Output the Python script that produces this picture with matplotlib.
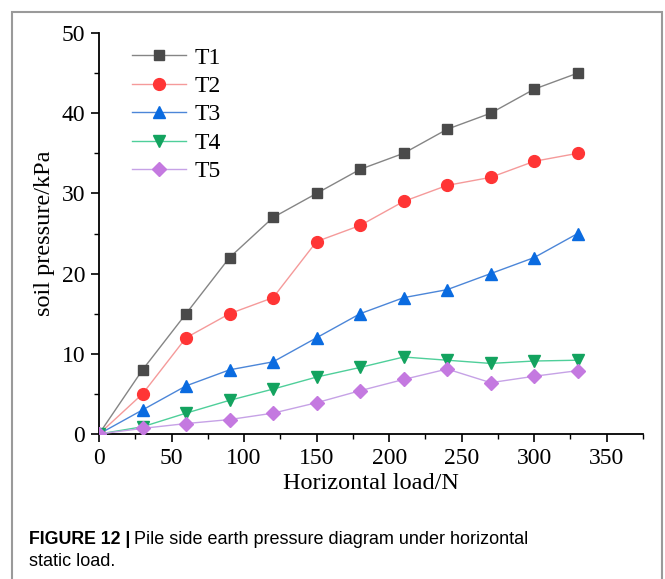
import matplotlib
matplotlib.use("Agg")
import matplotlib.pyplot as plt
from matplotlib.patches import Rectangle
from matplotlib.ticker import MultipleLocator

loads = [0, 30, 60, 90, 120, 150, 180, 210, 240, 270, 300, 330]
T1 = [0, 8, 15, 22, 27, 30, 33, 35, 38, 40, 43, 45]
T2 = [0, 5, 12, 15, 17, 24, 26, 29, 31, 32, 34, 35]
T3 = [0, 3, 6, 8, 9, 12, 15, 17, 18, 20, 22, 25]
T4 = [0, 0.9, 2.6, 4.2, 5.6, 7.1, 8.3, 9.6, 9.2, 8.8, 9.1, 9.2]
T5 = [0, 0.7, 1.3, 1.8, 2.6, 3.9, 5.4, 6.8, 8.1, 6.4, 7.2, 7.9]
series_names = ["T1", "T2", "T3", "T4", "T5"]
series_values = [T1, T2, T3, T4, T5]
xticks = [0, 50, 100, 150, 200, 250, 300, 350]
yticks = [0, 10, 20, 30, 40, 50]

styles = [
    dict(marker="s", mfc="#4a4a4a", line="#858585", ms=7.5),
    dict(marker="o", mfc="#ff3535", line="#f59a9a", ms=8.5),
    dict(marker="^", mfc="#0a6be0", line="#4c86d8", ms=9),
    dict(marker="v", mfc="#13a35f", line="#4fcf9a", ms=9),
    dict(marker="D", mfc="#c479e0", line="#c6a2e6", ms=7.5),
]

fig = plt.figure(figsize=(6.65, 5.79), dpi=100)
serif = ["Liberation Serif", "DejaVu Serif"]
sans = ["Liberation Sans", "DejaVu Sans"]

ax = fig.add_axes([99 / 665, 1 - 434 / 579, (643 - 99) / 665, (434 - 33) / 579])
for name, vals, st in zip(series_names, series_values, styles):
    ax.plot(loads, vals, color=st["line"], lw=1.0, marker=st["marker"],
            mfc=st["mfc"], mec=st["mfc"], ms=st["ms"], label=name, zorder=3)

ax.set_xlim(0, 375)
ax.set_ylim(0, 50)
ax.set_xticks(xticks)
ax.set_yticks(yticks)
ax.xaxis.set_minor_locator(MultipleLocator(25))
ax.yaxis.set_minor_locator(MultipleLocator(5))
ax.spines["top"].set_visible(False)
ax.spines["right"].set_visible(False)
for s in ["left", "bottom"]:
    ax.spines[s].set_linewidth(1.3)
ax.tick_params(which="major", direction="out", length=6, width=1.2, labelsize=17, pad=4)
ax.tick_params(which="minor", direction="out", length=3.5, width=1.0)
for lab in ax.get_xticklabels() + ax.get_yticklabels():
    lab.set_family(serif)
ax.set_xlabel("Horizontal load/N", fontsize=17.5, family=serif, labelpad=3)
ax.set_ylabel("soil pressure/kPa", fontsize=17.5, family=serif, labelpad=5)

leg = ax.legend(loc="upper left", bbox_to_anchor=(0.034, 1.0), frameon=False,
                prop={"family": serif, "size": 17}, handlelength=2.3,
                labelspacing=0.29, handletextpad=0.35, borderaxespad=0.2)

fig.add_artist(Rectangle((12 / 665, -0.02), (662 - 12) / 665, 1 - 12 / 579 + 0.02,
                         transform=fig.transFigure, fill=False,
                         edgecolor="#9a9a9a", lw=1.5))

t1 = fig.text(29 / 665, 1 - 540 / 579, "FIGURE 12 |", fontsize=12.8, family=sans,
              fontweight="bold", va="center", ha="left")
fig.canvas.draw()
bb = t1.get_window_extent()
fig.text((bb.x1 + 4) / 665, 1 - 540 / 579, "Pile side earth pressure diagram under horizontal",
         fontsize=13.0, family=sans, va="center", ha="left")
fig.text(29 / 665, 1 - 562 / 579, "static load.", fontsize=13.0, family=sans,
         va="center", ha="left")

fig.savefig("out.png", dpi=100)
